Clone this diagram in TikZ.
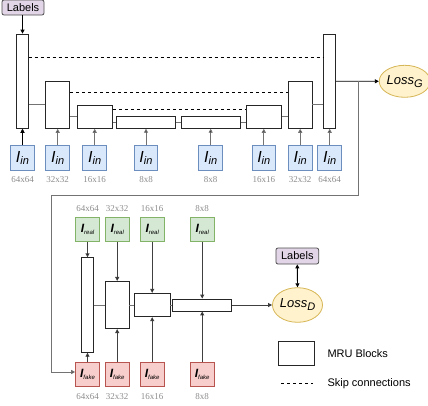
\documentclass[tikz,border=0pt]{standalone}
\usepackage{fontspec}
\setmainfont{Liberation Sans}
\newfontfamily\serifsz{Liberation Serif}
\usetikzlibrary{arrows.meta,calc,shapes.geometric}
\definecolor{blueF}{HTML}{DAE8FC}\definecolor{blueS}{HTML}{6C8EBF}
\definecolor{greenF}{HTML}{D5E8D4}\definecolor{greenS}{HTML}{82B366}
\definecolor{redF}{HTML}{F8CECC}\definecolor{redS}{HTML}{B85450}
\definecolor{yelF}{HTML}{FFF2CC}\definecolor{yelS}{HTML}{D6B656}
\definecolor{purF}{HTML}{E1D5E7}\definecolor{purS}{HTML}{4D4D4D}
\definecolor{lineG}{HTML}{737373}
\definecolor{sizeC}{HTML}{8C8C8C}
\tikzset{
  blk/.style={draw=black!85,fill=white,line width=0.8pt,inner sep=0pt,rectangle},
  inbox/.style={draw=blueS,fill=blueF,line width=0.9pt,minimum width=23.7pt,minimum height=24.3pt,inner sep=0pt},
  realbox/.style={draw=greenS,fill=greenF,line width=0.9pt,minimum width=23.8pt,minimum height=23.7pt,inner sep=0pt},
  fakebox/.style={draw=redS,fill=redF,line width=0.9pt,minimum width=23.8pt,minimum height=24.4pt,inner sep=0pt},
  lossel/.style={ellipse,draw=yelS,fill=yelF,line width=0.8pt,inner sep=0pt},
  labbox/.style={draw=purS,fill=purF,rounded corners=2pt,line width=0.8pt,inner sep=0pt,font=\fontsize{11}{11}\selectfont},
  szlab/.style={font=\serifsz\fontsize{9}{9}\selectfont,text=sizeC,inner sep=0pt},
  chain/.style={draw=lineG,line width=0.9pt},
  arr/.style={draw=lineG,line width=0.9pt,-{Triangle[length=4pt,width=4pt,fill=black]}},
  skip/.style={draw=black,line width=1pt,dash pattern=on 3pt off 3pt},
  legtxt/.style={font=\fontsize{11}{11}\selectfont,anchor=west,inner sep=0pt}
}
\newcommand{\Iin}{{\fontsize{16}{16}\selectfont\itshape I}\raisebox{-2pt}{\fontsize{11}{11}\selectfont\itshape in}}
\newcommand{\Isub}[1]{{\fontsize{12}{12}\selectfont\bfseries\itshape I}\raisebox{-2pt}{\fontsize{6}{6}\selectfont\itshape #1}}
\newcommand{\Loss}[1]{{\fontsize{13}{13}\selectfont\itshape Loss}\raisebox{-3pt}{\fontsize{11}{11}\selectfont\itshape #1}}
\begin{document}
\begin{tikzpicture}[x=1pt,y=-1pt]
\useasboundingbox (0,0) rectangle (428,405);
% generator blocks
\node[blk,minimum width=11.6pt,minimum height=94.3pt] (G1) at (22.5,81.2) {};
\node[blk,minimum width=24pt,minimum height=47.3pt] (G2) at (57.7,104.7) {};
\node[blk,minimum width=35.3pt,minimum height=23.3pt] (G3) at (94.7,116.7) {};
\node[blk,minimum width=59.4pt,minimum height=11.6pt] (G4) at (146,122.5) {};
\node[blk,minimum width=59.3pt,minimum height=11.6pt] (G5) at (210.7,122.5) {};
\node[blk,minimum width=35.7pt,minimum height=23.3pt] (G6) at (263.8,116.7) {};
\node[blk,minimum width=23.7pt,minimum height=47.3pt] (G7) at (300.2,104.7) {};
\node[blk,minimum width=12pt,minimum height=94.3pt] (G8) at (329.7,81.2) {};
% chain
\draw[chain] (G2.west) -- (G2.west -| G1.east);
\draw[chain] (G3.west) -- (G3.west -| G2.east);
\draw[chain] (G4.west) -- (G4.west -| G3.east);
\draw[chain] (G4.east) -- (G5.west);
\draw[chain] (G5.east) -- (G5.east -| G6.west);
\draw[chain] (G6.east) -- (G6.east -| G7.west);
\draw[chain] (G7.east) -- (G7.east -| G8.west);
% skip connections
\draw[skip] ($(G1.north east)!0.247!(G1.south east)$) coordinate (s1a) -- (s1a -| G8.west);
\draw[skip] ($(G2.north east)!0.247!(G2.south east)$) coordinate (s2a) -- (s2a -| G7.west);
\draw[skip] ($(G3.north east)!0.215!(G3.south east)$) coordinate (s3a) -- (s3a -| G6.west);
% labels top
\node[labbox,minimum width=42pt,minimum height=15pt] (L1) at (23,7.5) {Labels};
\draw[arr,draw=black] (L1.south -| G1.north) -- (G1.north);
% Iin boxes
\foreach \i/\x/\s in {1/22.5/64x64,2/57.7/32x32,3/94.7/16x16,4/146/8x8,5/210.7/8x8,6/263.8/16x16,7/300.2/32x32,8/329.7/64x64}{
  \node[inbox] (In\i) at (\x,157.8) {\Iin};
  \node[szlab] (Sz\i) at (\x,180) {\s};
  \draw[arr] (In\i.north) -- (G\i.south);
}
\draw[arr,draw=black] (In1.north) -- (G1.south);
% Loss G
\node[lossel,minimum width=45.4pt,minimum height=32pt] (LG) at (404.7,81.3) {\Loss{G}};
\draw[arr,draw=black] (G8.east) -- (LG.west);
% discriminator blocks
\node[blk,minimum width=11.6pt,minimum height=94.6pt] (D1) at (87.5,305) {};
\node[blk,minimum width=23.4pt,minimum height=47.3pt] (D2) at (117.2,305) {};
\node[blk,minimum width=35.4pt,minimum height=23.4pt] (D3) at (152.2,305) {};
\node[blk,minimum width=59pt,minimum height=12pt] (D4) at (202.2,305) {};
\draw[chain] (D1.east) -- (D2.west);
\draw[chain] (D2.east) -- (D3.west);
\draw[chain] (D3.east) -- (D4.west);
\foreach \i/\x/\s in {1/87.5/64x64,2/117.2/32x32,3/152.2/16x16,4/202.2/8x8}{
  \node[realbox] (R\i) at (\x,229.2) {\Isub{real}};
  \node[fakebox] (F\i) at (\x,374.5) {\Isub{fake}};
  \node[szlab] (Rs\i) at (\x,208.3) {\s};
  \node[szlab] (Fs\i) at (\x,396.7) {\s};
  \draw[arr,draw=black!75] (R\i.south) -- (D\i.north);
  \draw[arr,draw=black!75] (F\i.north) -- (D\i.south);
}
% feedback
\coordinate (fb) at (358.3,81.2);
\coordinate (fc) at (51.7,195);
\draw[arr] (fb) |- (fc) |- ($(F1.west)+(0,-2.5)$);
% Loss D
\node[lossel,minimum width=46.4pt,minimum height=34.6pt] (LD) at (297.5,305) {\Loss{D}};
\draw[arr,draw=black!75] (D4.east) -- (LD.west);
\node[labbox,minimum width=42.7pt,minimum height=16pt] (L2) at (297.3,256) {Labels};
\draw[draw=black,line width=0.9pt,{Triangle[length=4pt,width=4pt]}-{Triangle[length=4pt,width=4pt]}] (L2.south) -- (LD.north);
% legend
\node[blk,minimum width=35.6pt,minimum height=24pt] (Leg) at (296.5,353.3) {};
\node[legtxt] (LegT) at (327.3,354) {MRU Blocks};
\coordinate (da) at (281,383.3);
\coordinate (db) at (313.3,383.3);
\draw[skip,line width=0.9pt] (da) -- (db);
\node[legtxt] (SkT) at (327.3,383.3) {Skip connections};
\end{tikzpicture}
\end{document}
